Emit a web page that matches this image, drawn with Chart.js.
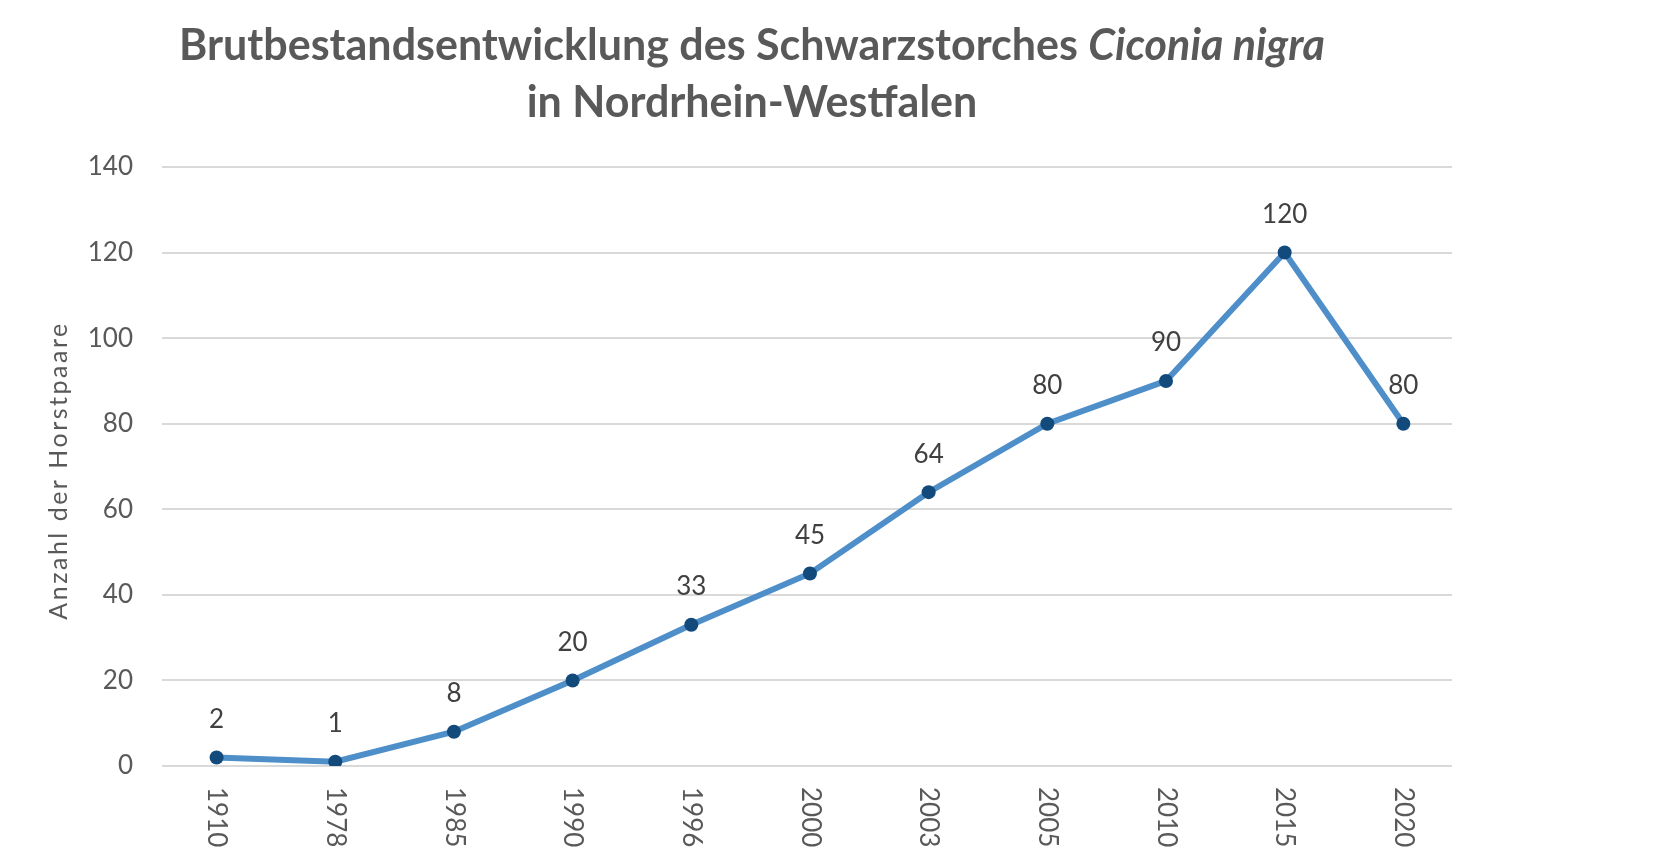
<!DOCTYPE html>
<html>
<head>
<meta charset="utf-8">
<script src="https://cdn.jsdelivr.net/npm/chart.js@4/dist/chart.umd.min.js"></script>
<style>
  html, body { margin: 0; padding: 0; background: #ffffff; }
  #wrap { width: 1670px; height: 859px; }
  canvas { display: block; }
</style>
</head>
<body>
<div id="wrap"><canvas id="c" width="1670" height="859"></canvas></div>
<script>
// ---- data ----
const years = ['1910', '1978', '1985', '1990', '1996', '2000', '2003', '2005', '2010', '2015', '2020'];
const pairs = [2, 1, 8, 20, 33, 45, 64, 80, 90, 120, 80];
const yMin = 0;
const yMax = 140;
const yStep = 20;
const titleMain = 'Brutbestandsentwicklung des Schwarzstorches ';
const titleItalic = 'Ciconia nigra';
const titleLine2 = 'in Nordrhein-Westfalen';
const yAxisTitle = 'Anzahl der Horstpaare';

// ---- styles ----
const FONT = 'Lato, "Open Sans", sans-serif';
const GREY = '#595959';
const LABEL = '#404040';

const titlePlugin = {
  id: 'titlePlugin',
  afterDraw(chart) {
    const ctx = chart.ctx;
    ctx.save();
    ctx.fillStyle = GREY;
    ctx.textBaseline = 'alphabetic';
    ctx.textAlign = 'left';
    const cx = 752;
    const fN = 'bold 43px ' + FONT;
    const fI = 'italic bold 43px ' + FONT;
    ctx.font = fN;
    const w1 = ctx.measureText(titleMain).width;
    ctx.font = fI;
    const w2 = ctx.measureText(titleItalic).width;
    const x0 = cx - (w1 + w2) / 2;
    ctx.font = fN;
    ctx.fillText(titleMain, x0, 60);
    ctx.font = fI;
    ctx.fillText(titleItalic, x0 + w1, 60);
    ctx.font = fN;
    ctx.textAlign = 'center';
    ctx.fillText(titleLine2, cx, 117);

    // y axis title
    const ca = chart.chartArea;
    ctx.save();
    ctx.translate(59, (ca.top + ca.bottom) / 2 + 4);
    ctx.rotate(-Math.PI / 2);
    ctx.font = '25px ' + FONT;
    ctx.letterSpacing = '2.5px';
    ctx.textAlign = 'center';
    ctx.textBaseline = 'middle';
    ctx.fillText(yAxisTitle, 0, 0);
    ctx.restore();
    ctx.restore();
  }
};

const xLabelPlugin = {
  id: 'xLabelPlugin',
  afterDraw(chart) {
    const ctx = chart.ctx;
    const xs = chart.scales.x;
    const top = chart.chartArea.bottom + 21;
    ctx.save();
    ctx.fillStyle = GREY;
    ctx.font = '26px ' + FONT;
    ctx.textAlign = 'left';
    ctx.textBaseline = 'middle';
    years.forEach((lab, i) => {
      const x = xs.getPixelForValue(i);
      ctx.save();
      ctx.translate(x, top);
      ctx.rotate(Math.PI / 2);
      ctx.fillText(lab, 0, 0);
      ctx.restore();
    });
    ctx.restore();
  }
};

const dataLabelPlugin = {
  id: 'dataLabelPlugin',
  afterDatasetsDraw(chart) {
    const ctx = chart.ctx;
    const meta = chart.getDatasetMeta(0);
    ctx.save();
    ctx.fillStyle = LABEL;
    ctx.font = '26px ' + FONT;
    ctx.textAlign = 'center';
    ctx.textBaseline = 'middle';
    meta.data.forEach((pt, i) => {
      ctx.fillText(String(pairs[i]), pt.x, pt.y - 38);
    });
    ctx.restore();
  }
};

new Chart(document.getElementById('c'), {
  type: 'line',
  data: {
    datasets: [{
      data: pairs.map((v, i) => ({ x: i, y: v })),
      borderColor: '#4E8FCA',
      borderWidth: 6,
      pointBackgroundColor: '#134A7C',
      pointBorderColor: '#134A7C',
      pointRadius: 7,
      pointBorderWidth: 0,
      tension: 0,
      fill: false
    }]
  },
  options: {
    responsive: false,
    animation: false,
    devicePixelRatio: 1,
    layout: { padding: { top: 167, right: 218, bottom: 0, left: 0 } },
    plugins: { legend: { display: false }, tooltip: { enabled: false }, title: { display: false } },
    scales: {
      x: {
        type: 'linear',
        min: -0.46,
        max: years.length - 1 + 0.41,
        grid: { display: false, drawTicks: false },
        border: { display: false },
        ticks: { display: false },
        afterFit(scale) { scale.height = 93; }
      },
      y: {
        min: yMin,
        max: yMax,
        ticks: {
          stepSize: yStep,
          padding: 29,
          color: GREY,
          font: { family: FONT, size: 26 }
        },
        grid: { color: '#d9d9d9', lineWidth: 2, drawTicks: false },
        border: { display: false },
        title: { display: false },
        afterFit(scale) { scale.width = 162; }
      }
    }
  },
  plugins: [titlePlugin, xLabelPlugin, dataLabelPlugin]
});
</script>
</body>
</html>
